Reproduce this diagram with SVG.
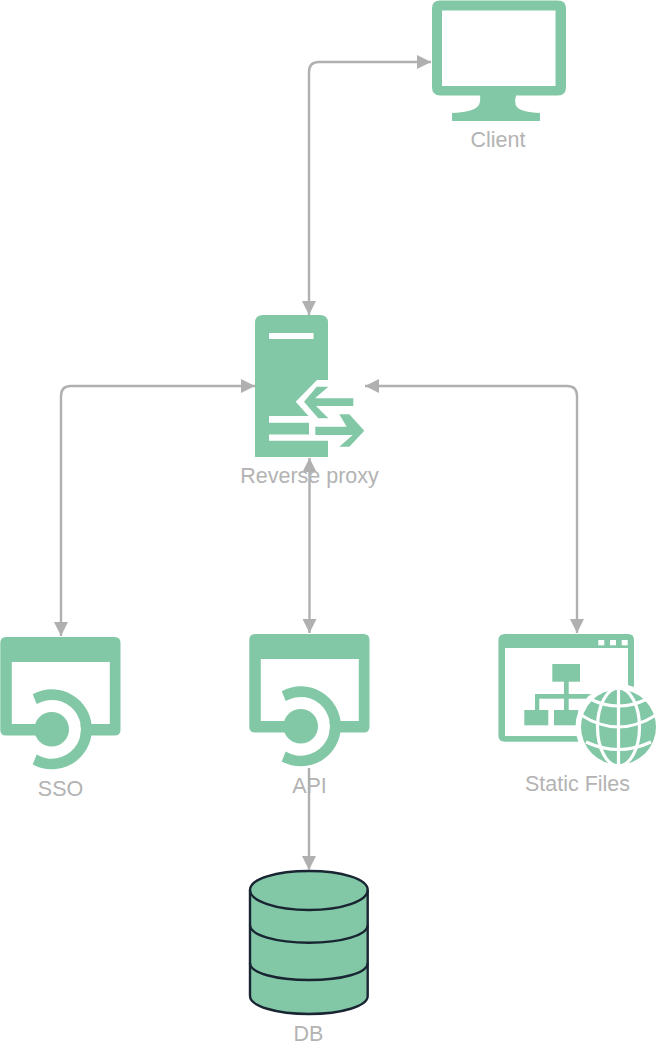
<svg xmlns="http://www.w3.org/2000/svg" width="658" height="1048" viewBox="0 0 658 1048">
<style>
.g{fill:#82c8a6}
.w{fill:#fff}
.lbl{font-family:"Liberation Sans",Arial,sans-serif;font-size:21.5px;fill:#b3b3b3;text-anchor:middle}
.c{fill:none;stroke:#b0b0b0;stroke-width:2.4}
.db{fill:#82c8a6;stroke:#1a2533;stroke-width:2.4}
.dbl{fill:none;stroke:#1a2533;stroke-width:2.4}
.gl{fill:none;stroke:#fff;stroke-width:3.2}
</style>
<defs>
<marker id="a" markerUnits="userSpaceOnUse" markerWidth="15" markerHeight="15" refX="14" refY="7" orient="auto-start-reverse"><path d="M0,0 L14,7 L0,14 Z" fill="#b0b0b0"/></marker>
<g id="svc">
<path class="g" d="M255,634 H363.500 Q369.500,634 369.500,640 V727 Q369.500,732.500 363.500,732.500 H255 Q249.300,732.500 249.300,727 V640 Q249.300,634 255,634 Z"/>
<rect class="w" x="260.800" y="659" width="98" height="62"/>
<path d="M289,706.500 A23,23 0 1 1 289,746.100" fill="none" stroke="#fff" stroke-width="12.500"/>
<path d="M281.700,691.200 A40,40 0 1 1 281.700,761.400 L285.700,751.600 A29.400,29.400 0 1 0 285.700,701 Z" class="g"/>
<circle class="g" cx="300.700" cy="726.300" r="17.300"/>
</g>
</defs>
<g id="connectors">
<path class="c" d="M309,315 V72 Q309,62 319,62 H431" marker-start="url(#a)" marker-end="url(#a)"/>
<path class="c" d="M255,386 H71 Q61,386 61,396 V636" marker-start="url(#a)" marker-end="url(#a)"/>
<path class="c" d="M365,386 H567 Q577,386 577,396 V633" marker-start="url(#a)" marker-end="url(#a)"/>
<path class="c" d="M309.500,458 V633" marker-start="url(#a)" marker-end="url(#a)"/>
</g>
<g id="client">
<path class="g" d="M440,0.500 H558 Q566,0.500 566,8.500 V87 Q566,95.500 558,95.500 H516 Q514,104 517,107 Q521,112 540,113 V121 H452 V113 Q472,112 477,107 Q481,104 480,95.500 H440 Q432,95.500 432,87 V8.500 Q432,0.500 440,0.500 Z"/>
<rect class="w" x="442" y="10.500" width="113.500" height="75.500"/>
<text class="lbl" x="498" y="147">Client</text>
</g>
<g id="proxy">
<path class="g" d="M263,315 H320 Q328,315 328,323 V457 H255 V323 Q255,315 263,315 Z"/>
<rect class="w" x="269" y="333" width="44.500" height="6"/>
<path class="w" d="M328,380 H317 L295.700,401.700 L308.500,416 H269 V422.700 H309 V434.500 H269 V440.700 H328.500 V458 H345 V380 Z"/>
<path class="g" d="M304,401.700 L316.700,386.700 H328.300 L315,398.300 H353.300 V406 H316 L328.300,418.300 H318.300 Z"/>
<path class="g" d="M315.300,426.700 H346.700 L339.300,414.300 H349.300 L364.300,430.700 L349.300,446.700 H339.300 L352.700,435 H315.300 Z"/>
<text class="lbl" x="309.500" y="483">Reverse proxy</text>
</g>
<g id="sso">
<use href="#svc" x="-249" y="3"/>
<text class="lbl" x="60.500" y="796">SSO</text>
</g>
<g id="api">
<use href="#svc"/>
<text class="lbl" x="309.500" y="793">API</text>
</g>
<g id="static">
<path class="g" d="M505,634 H628 Q634,634 634,640 V736 Q634,741.700 628,741.700 H505 Q498.400,741.700 498.400,736 V640 Q498.400,634 505,634 Z"/>
<rect class="w" x="505" y="648" width="123" height="88"/>
<rect class="w" x="598.300" y="640" width="6" height="5.300"/>
<rect class="w" x="610" y="640" width="6" height="5.300"/>
<rect class="w" x="621.700" y="640" width="6" height="5.300"/>
<rect class="g" x="552.300" y="664" width="27.700" height="17.700"/>
<rect class="g" x="564" y="681" width="4.700" height="30"/>
<rect class="g" x="535" y="694" width="60" height="4.700"/>
<rect class="g" x="535" y="694" width="4.300" height="17"/>
<rect class="g" x="524.300" y="710" width="24" height="15.300"/>
<rect class="g" x="554" y="710" width="24.300" height="15.300"/>
<circle class="w" cx="618.500" cy="727" r="43"/>
<circle class="g" cx="618.500" cy="727" r="37.500"/>
<path class="gl" d="M618.500,689 V765"/>
<ellipse class="gl" cx="618.500" cy="727" rx="21" ry="39"/>
<path class="gl" d="M590,699 Q618.500,713 647,699 M581,715 Q618.500,739 656,715 M586,742 Q618.500,757 651,742"/>
<text class="lbl" x="577.500" y="791">Static Files</text>
</g>
<g id="db">
<path class="db" d="M250,890 C250,879 276,871 309,871 C342,871 367.700,879 367.700,890 V996 C367.700,1006 342,1014 309,1014 C276,1014 250,1006 250,996 Z"/>
<path class="dbl" d="M250,890 C250,901 276,910 309,910 C342,910 367.700,901 367.700,890"/>
<path class="dbl" d="M250,925 C250,935 276,942.700 309,942.700 C342,942.700 367.700,935 367.700,925"/>
<path class="dbl" d="M250,963 C250,973 276,980 309,980 C342,980 367.700,973 367.700,963"/>
<text class="lbl" x="308.500" y="1041">DB</text>
</g>
<g id="connectors-db">
<path class="c" d="M309,768 V870" marker-end="url(#a)"/>
</g>
</svg>
